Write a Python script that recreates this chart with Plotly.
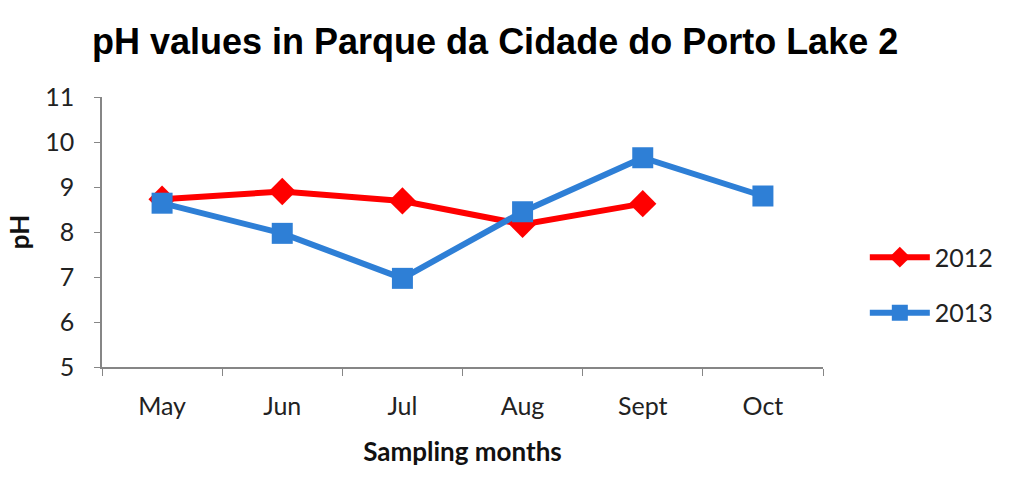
import plotly.graph_objects as go

months = ["May", "Jun", "Jul", "Aug", "Sept", "Oct"]
ph_2012 = [8.73, 8.90, 8.69, 8.17, 8.63, None]
ph_2013 = [8.64, 7.97, 6.97, 8.45, 9.65, 8.80]

fig = go.Figure()
fig.add_trace(go.Scatter(
    x=months, y=ph_2012, name="2012", mode="lines+markers", legendgroup="a",
    line=dict(color="#FF0000", width=6),
    marker=dict(symbol="diamond", size=21, color="#FF0000"),
    connectgaps=False,
))
fig.add_trace(go.Scatter(
    x=months, y=ph_2013, name="2013", mode="lines+markers", legendgroup="b",
    line=dict(color="#2E7FD6", width=6),
    marker=dict(symbol="square", size=21, color="#2E7FD6"),
))

txt = "Lato, Open Sans, Liberation Sans, sans-serif"
axis_font = dict(family=txt, size=25, color="#222222")
title_font = dict(family=txt, size=26, color="#111111")

fig.update_layout(
    width=1014, height=486,
    margin=dict(l=102, r=191, t=97, b=119),
    paper_bgcolor="white", plot_bgcolor="white",
    title=dict(
        text="<b>pH values in Parque da Cidade do Porto Lake 2</b>",
        font=dict(family="Liberation Sans, Arial, sans-serif", size=36, color="#000000"),
        x=92/1014, xanchor="left", y=1-41/486, yanchor="middle",
    ),
    xaxis=dict(
        type="category", categoryorder="array", categoryarray=months,
        tickson="boundaries", ticks="outside", ticklen=7, tickcolor="#868686",
        showline=True, linecolor="#868686", linewidth=1.5,
        showgrid=False, tickfont=axis_font, ticklabelstandoff=16,
        title=dict(text="<b>Sampling months</b>", font=title_font, standoff=24),
        range=[-0.5, 5.5],
    ),
    yaxis=dict(
        range=[5, 11], dtick=1, ticks="outside", ticklen=6, tickcolor="#868686",
        showline=True, linecolor="#868686", linewidth=1.5,
        showgrid=False, zeroline=False, tickfont=axis_font, ticklabelstandoff=15,
        title=dict(text="<b>pH</b>", font=title_font, standoff=8),
    ),
    legend=dict(
        x=1.058, xanchor="left", y=0.304, yanchor="middle",
        font=axis_font,
        tracegroupgap=20, itemwidth=60,
    ),
)

fig.write_html("out.html")
